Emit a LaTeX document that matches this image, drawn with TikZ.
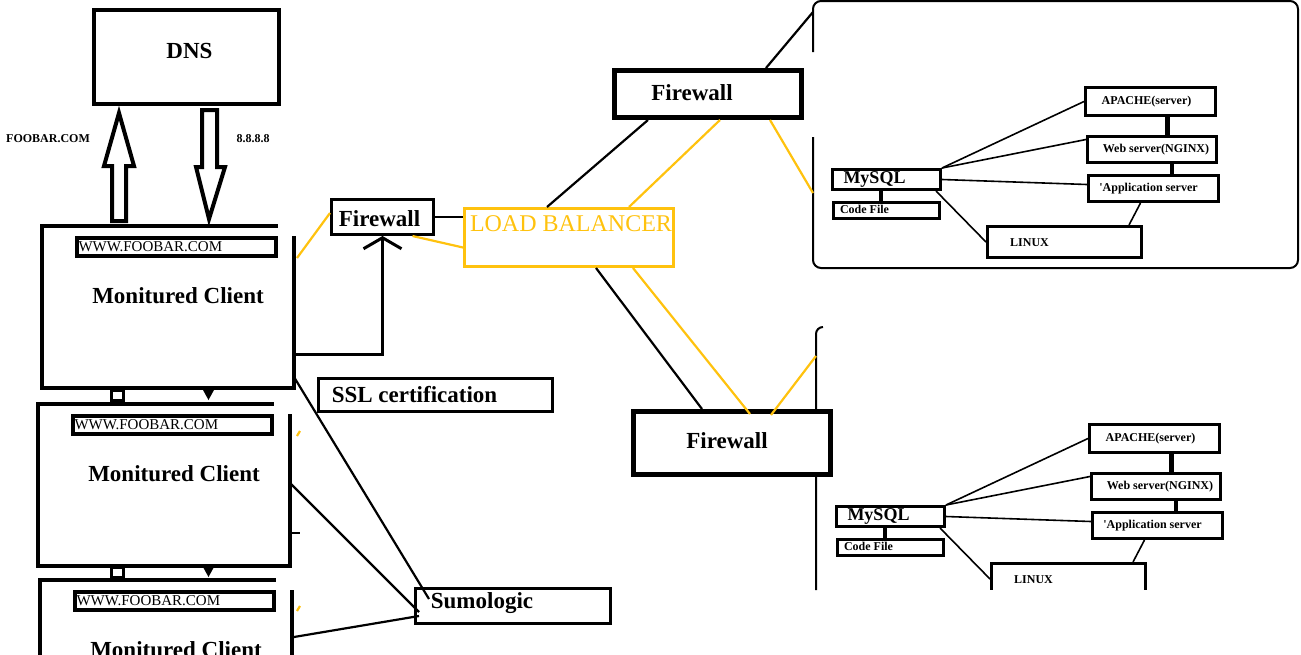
\documentclass[tikz,border=0pt]{standalone}
\usepackage{fontspec}
\setmainfont{Liberation Serif}
\usepackage{tikz}
\usetikzlibrary{arrows.meta}
\definecolor{LoadBalancerColor}{RGB}{255,194,14}

\begin{document}
\begin{tikzpicture}[x=1pt,y=-1pt,
 bx/.style n args={3}{rectangle,draw,fill=white,line width=#1,minimum width=#2,minimum height=#3,inner sep=0pt},
 big/.style={font=\bfseries\fontsize{23}{23}\selectfont},
 sml/.style={font=\bfseries\fontsize{12}{12}\selectfont},
 lbtxt/.style={text=LoadBalancerColor,font=\fontsize{24}{24}\selectfont},
 url/.style={rectangle,draw,line width=4pt,text width=195pt,minimum height=18pt,inner xsep=2pt,inner ysep=0pt,font=\fontsize{15}{15}\selectfont},
 wire/.style={line width=1.6pt},
 ylw/.style={LoadBalancerColor,line width=2.2pt},
 blk/.style={line width=2.2pt},
 hollow/.style={line width=4pt,line join=miter}]
\useasboundingbox (0,0) rectangle (1301,654);
\clip (0,0) rectangle (1301,654);

% dns lookup
\node[bx={4pt}{185pt}{94pt},label={[big,xshift=3pt,yshift=6pt]center:DNS}] (dns) at (186.5,57) {};
\draw[hollow] (112,221) -- (112,166) -- (104,166) -- (119,113) -- (134,166) -- (126,166) -- (126,221) -- cycle;
\draw[hollow] (202,110) -- (202,167) -- (196,167) -- (209,219) -- (225,167) -- (217,167) -- (217,110) -- cycle;
\node[sml] (fqdn) at (48,139) {FOOBAR.COM};
\node[sml] (ip) at (253,139) {8.8.8.8};

% clients
\foreach \n/\cx/\cy in {1/42/226,2/38/404,3/40/580}{
   \draw[line width=4pt] (\cx-2,\cy) -- (\cx+236,\cy);
   \draw[line width=3.5pt] (\cx,\cy) -- (\cx,\cy+162) -- (\cx+252,\cy+162) -- (\cx+252,\cy+10);
   \node[url] (url\n) at (\cx+134,\cy+21) {WWW.FOOBAR.COM};
   \node[big] (mc\n) at (\cx+136,\cy+70) {Monitured Client};
}
\foreach \y in {388,565}{
   \draw[line width=3pt] (111,\y+2) rectangle (123,\y+12);
   \fill (203,\y+2) -- (214,\y+2) -- (208.5,\y+12) -- cycle;
}
\coordinate (c1r) at (294,354);
\coordinate (c1s) at (294,377);
\coordinate (c1y) at (297,258);
\coordinate (c2s) at (290,483);
\coordinate (c3s) at (294,637);
\draw[blk] (290,533) -- (300,533);
\draw[ylw] (297,436) -- (300,431);
\draw[ylw] (297,611) -- (300,606);

% server panels
\draw[line width=2pt,rounded corners=8pt] (813,52) -- (813,1) -- (1298,1) -- (1298,268) -- (813,268) -- (813,137);
\draw[line width=2pt] (823,327) to[out=180,in=90] (816,334) -- (816,590);
\coordinate (p1top) at (813,12);
\coordinate (p1side) at (813,193);
\coordinate (p2side) at (816,356);

\foreach \p/\dx/\dy in {a/0/0,b/4/337}{
\begin{scope}[shift={(\dx,\dy)}]
   \node[bx={3pt}{108pt}{20pt},label={[font=\bfseries\fontsize{18}{18}\selectfont,xshift=-12pt]center:MySQL}] (my\p) at (886.5,179.5) {};
   \node[bx={3pt}{106pt}{16pt},label={[sml,xshift=-22pt,yshift=1pt]center:Code File}] (cf\p) at (886.5,210.5) {};
   \node[bx={3pt}{130pt}{28pt},label={[sml,xshift=-4pt]center:APACHE(server)}] (ap\p) at (1150.5,101.5) {};
   \node[bx={3pt}{129pt}{26pt},label={[sml,xshift=4pt]center:Web server(NGINX)}] (web\p) at (1152,149.5) {};
   \node[bx={3pt}{130pt}{26pt},label={[sml,xshift=-5pt]center:\textquotesingle Application server}] (app\p) at (1153.5,188.5) {};
   \node[bx={3pt}{154pt}{31pt},label={[sml,xshift=-35pt,yshift=-1pt]center:LINUX}] (lx\p) at (1064.5,242) {};
   \draw[line width=4pt] ([xshift=-6pt]my\p.south) -- ([xshift=-6pt]cf\p.north);
   \draw[line width=5pt] ([xshift=17pt]ap\p.south) -- ++(0,21);
   \draw[line width=4pt] ([xshift=20pt]web\p.south) -- ++(0,13);
   \draw[wire] (my\p.north east) -- (ap\p.west);
   \draw[wire] (my\p.north east) -- ([yshift=10pt]web\p.west);
   \draw[wire] (my\p.east) -- ([yshift=4pt]app\p.west);
   \draw[wire] ([xshift=-6pt]my\p.south east) -- (lx\p.west);
   \draw[wire] ([xshift=-13pt]app\p.south) -- ([xshift=-14pt]lx\p.north east);
\end{scope}
}
\fill[white] (830,590) rectangle (1301,654);

% middle boxes
\node[bx={3pt}{102pt}{35pt},label={[big,xshift=-3pt,yshift=-2pt]center:Firewall}] (fws) at (382.5,217) {};
\node[bx={3pt}{209pt}{58pt},draw=LoadBalancerColor,label={[lbtxt,yshift=13.5pt,xshift=2pt]center:LOAD BALANCER}] (lb) at (569,237.5) {};
\node[bx={3pt}{234pt}{33pt},label={[big,xshift=-21pt]center:SSL certification}] (ssl) at (435.5,395) {};
\node[bx={3pt}{195pt}{35pt},label={[big,xshift=-31pt,yshift=3pt]center:Sumologic}] (sumo) at (513,606) {};
\node[bx={5pt}{187pt}{47pt},label={[big,xshift=-16pt,yshift=1pt]center:Firewall}] (fwtop) at (708,94) {};
\node[bx={5pt}{197pt}{63pt},label={[big,xshift=-5pt,yshift=2pt]center:Firewall}] (fwbot) at (732,443) {};

% connectors
\draw[ylw] (c1y) -- ([yshift=4pt]fws.west);
\draw[line width=3pt,-{Straight Barb[length=11pt,width=38pt]}] (c1r) -| (fws.south);
\draw[blk] (fws.east) -- (fws.east -| lb.west);
\draw[ylw] ([xshift=30pt]fws.south) -- ([yshift=-10pt]lb.west);
\draw[blk] (c1s) -- ([xshift=15pt,yshift=-12pt]sumo.north west);
\draw[blk] (c2s) -- ([xshift=5pt,yshift=-6pt]sumo.west);
\draw[blk] (c3s) -- ([xshift=5pt,yshift=-10pt]sumo.west);
\draw[blk] ([xshift=84pt]lb.north west) -- ([xshift=36pt]fwtop.south west);
\draw[ylw] ([xshift=166pt]lb.north west) -- ([xshift=108pt]fwtop.south west);
\draw[ylw] ([xshift=158pt]fwtop.south west) -- (p1side);
\draw[blk] ([xshift=154pt]fwtop.north west) -- (p1top);
\draw[blk] ([xshift=133pt]lb.south west) -- ([xshift=71pt]fwbot.north west);
\draw[ylw] ([xshift=170pt]lb.south west) -- ([xshift=119pt,yshift=-5pt]fwbot.north west);
\draw[ylw] ([xshift=140pt,yshift=-6pt]fwbot.north west) -- (p2side);
\end{tikzpicture}
\end{document}
